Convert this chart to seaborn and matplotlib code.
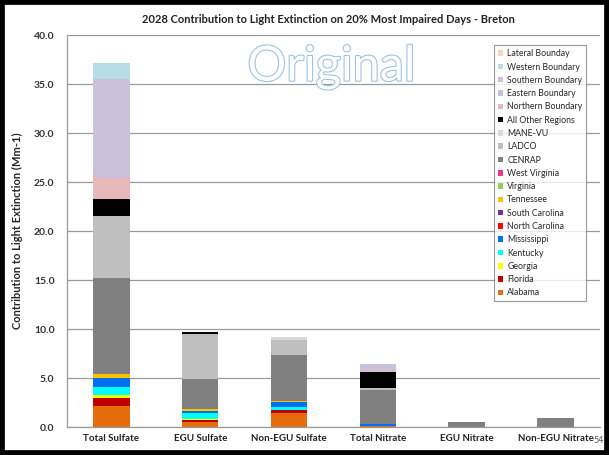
import numpy as np
import pandas as pd
import matplotlib.pyplot as plt
import matplotlib.patheffects as pe
from matplotlib.patches import Rectangle
import seaborn as sns

# DATA
categories = ["Total Sulfate", "EGU Sulfate", "Non-EGU Sulfate",
              "Total Nitrate", "EGU Nitrate", "Non-EGU Nitrate"]

# stack order, bottom to top
sources = ["Alabama", "Florida", "Georgia", "Kentucky", "Mississippi",
           "North Carolina", "South Carolina", "Tennessee", "Virginia",
           "West Virginia", "CENRAP", "LADCO", "MANE-VU", "All Other Regions",
           "Northern Boundary", "Eastern Boundary", "Southern Boundary",
           "Western Boundary", "Lateral Bounday"]

alabama = [2.18, 0.50, 1.39, 0.08, 0.00, 0.00]
florida = [0.82, 0.21, 0.34, 0.05, 0.00, 0.00]
georgia = [0.27, 0.12, 0.05, 0.00, 0.00, 0.00]
kentucky = [0.78, 0.61, 0.30, 0.02, 0.00, 0.00]
mississippi = [0.92, 0.17, 0.51, 0.15, 0.00, 0.00]
north_carolina = [0.00, 0.00, 0.00, 0.02, 0.00, 0.00]
south_carolina = [0.00, 0.00, 0.00, 0.00, 0.00, 0.00]
tennessee = [0.40, 0.27, 0.10, 0.00, 0.00, 0.00]
virginia = [0.00, 0.00, 0.00, 0.00, 0.00, 0.00]
west_virginia = [0.00, 0.00, 0.00, 0.00, 0.00, 0.00]
cenrap = [9.80, 3.07, 4.69, 3.48, 0.51, 0.95]
ladco = [6.39, 4.55, 1.53, 0.15, 0.00, 0.00]
mane_vu = [0.00, 0.00, 0.24, 0.00, 0.00, 0.00]
all_other = [1.71, 0.18, 0.00, 1.70, 0.00, 0.00]
northern = [2.10, 0.00, 0.00, 0.10, 0.00, 0.00]
eastern = [0.30, 0.00, 0.00, 0.10, 0.00, 0.00]
southern = [9.81, 0.00, 0.00, 0.58, 0.00, 0.00]
western = [1.69, 0.00, 0.00, 0.00, 0.00, 0.00]
lateral = [0.00, 0.00, 0.00, 0.00, 0.00, 0.00]

values = [alabama, florida, georgia, kentucky, mississippi, north_carolina,
          south_carolina, tennessee, virginia, west_virginia, cenrap, ladco,
          mane_vu, all_other, northern, eastern, southern, western, lateral]

colors = ["#e46c0a", "#c00000", "#ffff00", "#00ffff", "#0070f0", "#ff0000",
          "#7030a0", "#ffc000", "#92d050", "#e8398c", "#808080", "#bfbfbf",
          "#d9d9d9", "#000000", "#e6b9b8", "#c9bfdc", "#ccc1da", "#b7dee8",
          "#fcd5b5"]

yticks = np.arange(0, 40.1, 5)

# PLOT
sns.set_style("white")
plt.rcParams["font.family"] = ["Lato", "DejaVu Sans"]

fig = plt.figure(figsize=(6.09, 4.55), dpi=100)
ax = fig.add_axes([0.110, 0.0615, 0.875, 0.8615])

bottom = np.zeros(len(categories))
for name, vals, col in zip(sources, values, colors):
    df = pd.DataFrame({"cat": categories, "val": vals})
    sns.barplot(data=df, x="cat", y="val", color=col, width=0.41,
                bottom=bottom, ax=ax, label=name, saturation=1,
                linewidth=0)
    bottom = bottom + np.array(vals)

ax.set_ylim(0, 40)
ax.set_xlim(-0.5, len(categories) - 0.5)
ax.set_yticks(yticks)
ax.set_yticklabels([f"{v:.1f}" for v in yticks], fontsize=7.5,
                   fontweight="bold", color="#333333")
ax.yaxis.grid(True, color="#9a9a9a", linewidth=0.9)
ax.set_axisbelow(True)
ax.tick_params(axis="y", length=5, color="#9a9a9a", width=0.9, pad=4)

ax.set_xticks(np.arange(len(categories)))
ax.set_xticklabels(categories, fontsize=7, fontweight="bold",
                   color="#222222")
ax.set_xticks(np.arange(len(categories) + 1) - 0.5, minor=True)
ax.tick_params(axis="x", which="major", length=0, pad=5)
ax.tick_params(axis="x", which="minor", length=4, color="#9a9a9a",
               width=0.9)
ax.set_xlabel("")
ax.set_ylabel("Contribution to Light Extinction (Mm-1)", fontsize=8,
              fontweight="bold", labelpad=8)

for side in ["top", "right"]:
    ax.spines[side].set_visible(False)
for side in ["left", "bottom"]:
    ax.spines[side].set_color("#9a9a9a")
    ax.spines[side].set_linewidth(0.9)

# legend, reversed so Lateral is on top
handles, labels = ax.get_legend_handles_labels()
leg = ax.legend(handles[::-1], labels[::-1], loc="upper right",
                bbox_to_anchor=(0.983, 0.985), fontsize=6.3, frameon=True,
                fancybox=False, edgecolor="#7f7f7f", handlelength=0.6,
                handleheight=0.6, handletextpad=0.45, labelspacing=0.49,
                borderpad=0.45)
leg.get_frame().set_linewidth(0.8)

fig.text(0.54, 0.958,
         "2028 Contribution to Light Extinction on 20% Most Impaired Days - Breton",
         ha="center", va="center", fontsize=8, fontweight="bold",
         color="#222222")

# watermark
fig.text(0.544, 0.853, "Original", ha="center", va="center", fontsize=35,
         color="white",
         path_effects=[pe.withStroke(linewidth=1.6, foreground="#9dc3e6")])

fig.text(0.983, 0.031, "54", ha="center", va="center", fontsize=6.5,
         color="#555555")

# black frame
fig.patches.append(Rectangle((0, 0), 1, 1, transform=fig.transFigure,
                             fill=False, edgecolor="black", linewidth=7,
                             zorder=10))

plt.savefig("out.png", dpi=100)
